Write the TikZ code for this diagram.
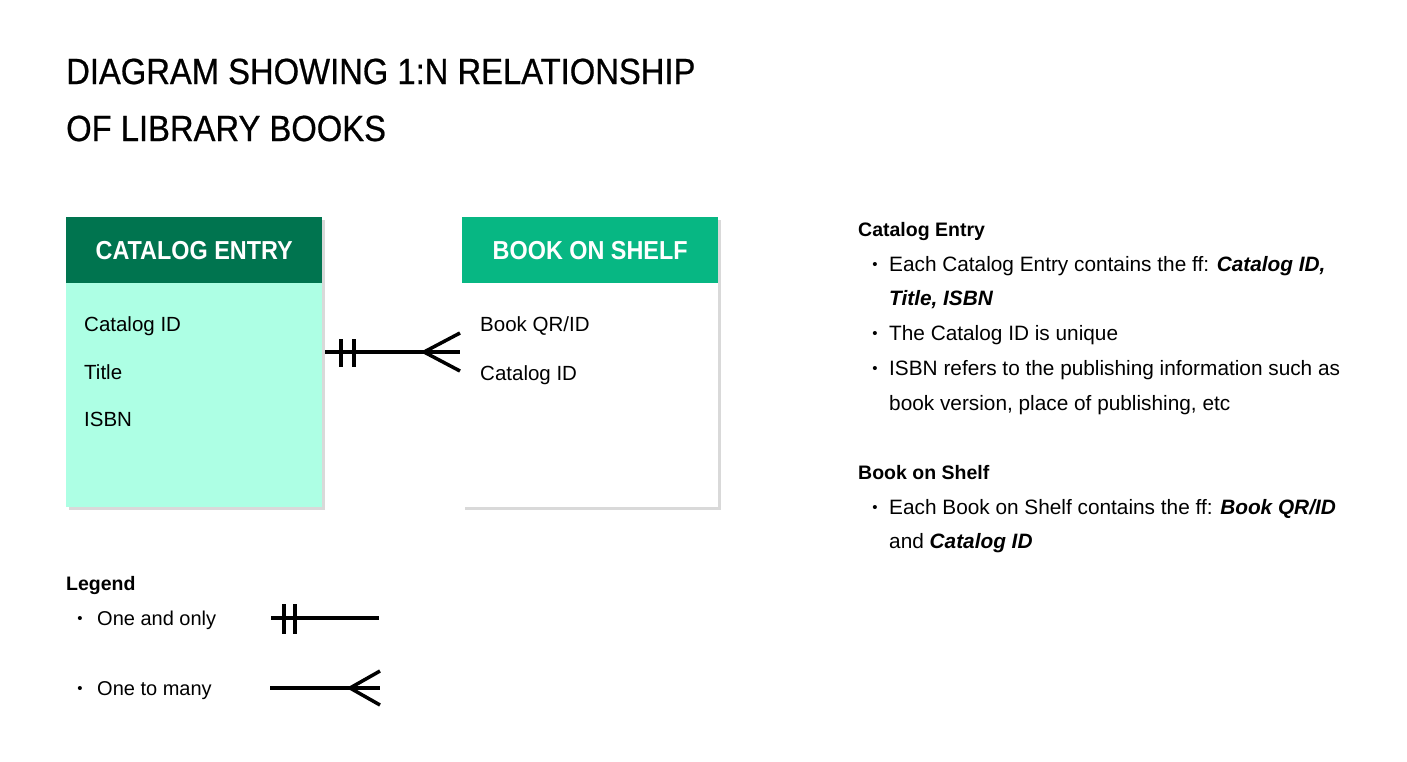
\documentclass[tikz,border=0pt]{standalone}
\usepackage{fontspec}
\setmainfont{Liberation Sans}
\newfontfamily\headfont{Liberation Sans}[FakeStretch=0.9]
\newfontfamily\titlefont{Liberation Sans}[FakeStretch=0.9, FakeBold=0.6]
\usetikzlibrary{positioning,calc,shadows}
\definecolor{entrydark}{HTML}{00744F}
\definecolor{entrylight}{HTML}{ADFFE4}
\definecolor{shelfgreen}{HTML}{07B783}
\tikzset{
  boxbody/.style={minimum width=256pt, minimum height=290pt, inner sep=0pt, anchor=north west,
    drop shadow={shadow xshift=3pt, shadow yshift=-3pt, opacity=0.25, fill=black!60}},
  boxhead/.style={minimum width=256pt, minimum height=66pt, inner sep=0pt, anchor=north west,
    text=white, font=\headfont\fontsize{26}{30}\selectfont\bfseries},
  field/.style={anchor=base west, inner sep=0pt, font=\fontsize{20.5}{24}\selectfont},
  note/.style={anchor=base west, inner sep=0pt, font=\fontsize{20.8}{24}\selectfont},
  notehead/.style={anchor=base west, inner sep=0pt, font=\fontsize{19.5}{24}\selectfont\bfseries},
  dot/.style={anchor=center, inner sep=0pt, font=\fontsize{15}{16}\selectfont},
  relline/.style={line width=3.5pt, black}
}
\begin{document}
\begin{tikzpicture}[x=1pt, y=-1pt]
\useasboundingbox (0,0) rectangle (1407,761);
% title
\node[anchor=base west, inner sep=0pt, font=\titlefont\fontsize{36.4}{40}\selectfont] (t1) at (66,84) {DIAGRAM SHOWING 1:N RELATIONSHIP};
\node[anchor=base west, inner sep=0pt, font=\titlefont\fontsize{36.4}{40}\selectfont] (t2) at (66,141) {OF LIBRARY BOOKS};
% catalog entry box
\node[boxbody, fill=entrylight] (ce) at (66,217) {};
\node[boxhead, fill=entrydark] (ceh) at (66,217) {CATALOG ENTRY};
\node[field] (ce1) at (84,331) {Catalog ID};
\node[field] (ce2) at (84,379) {Title};
\node[field] (ce3) at (84,426) {ISBN};
% book on shelf box
\node[boxbody, fill=white] (bs) at (462,217) {};
\node[boxhead, fill=shelfgreen] (bsh) at (462,217) {BOOK ON SHELF};
\node[field] (bs1) at (480,331) {Book QR/ID};
\node[field] (bs2) at (480,380) {Catalog ID};
% relationship
\coordinate (ceR) at (325,352);
\coordinate (bsL) at (460,352);
\draw[relline] (ceR) -- (bsL);
\draw[relline] ($(ceR)+(16,-13)$) -- ++(0,28);
\draw[relline] ($(ceR)+(29,-13)$) -- ++(0,28);
\draw[relline] ($(bsL)+(0,-19)$) -- ($(bsL)+(-36,0)$) -- ($(bsL)+(0,19)$);
% legend
\node[notehead] (lg) at (66,590) {Legend};
\node[dot] (lgd1) at (80,620) {\textbullet};
\node[note, font=\fontsize{20}{24}\selectfont] (lg1) at (97,625) {One and only};
\node[dot] (lgd2) at (80,690) {\textbullet};
\node[note, font=\fontsize{20}{24}\selectfont] (lg2) at (97,695) {One to many};
\coordinate (oa) at (271,618);
\coordinate (ob) at (379,618);
\draw[relline] (oa) -- (ob);
\draw[relline] ($(oa)+(13,-14)$) -- ++(0,30);
\draw[relline] ($(oa)+(24,-14)$) -- ++(0,30);
\coordinate (ma) at (270,688);
\coordinate (mb) at (380,688);
\draw[relline] (ma) -- (mb);
\draw[relline] ($(mb)+(0,-17)$) -- ($(mb)+(-30,0)$) -- ($(mb)+(0,17)$);
% notes
\node[notehead] (n1) at (858,236) {Catalog Entry};
\node[dot] (n1d1) at (875,266) {\textbullet};
\node[note] (n11) at (889,271) {Each Catalog Entry contains the ff: \textbf{\textit{Catalog ID,}}};
\node[note] (n12) at (889,305) {\textbf{\textit{Title, ISBN}}};
\node[dot] (n1d2) at (875,335) {\textbullet};
\node[note] (n13) at (889,340) {The Catalog ID is unique};
\node[dot] (n1d3) at (875,370) {\textbullet};
\node[note] (n14) at (889,375) {ISBN refers to the publishing information such as};
\node[note] (n15) at (889,410) {book version, place of publishing, etc};
\node[notehead] (n2) at (858,479) {Book on Shelf};
\node[dot] (n2d1) at (875,509) {\textbullet};
\node[note] (n21) at (889,514) {Each Book on Shelf contains the ff: \textbf{\textit{Book QR/ID}}};
\node[note] (n22) at (889,548) {and \textbf{\textit{Catalog ID}}};
\end{tikzpicture}
\end{document}
